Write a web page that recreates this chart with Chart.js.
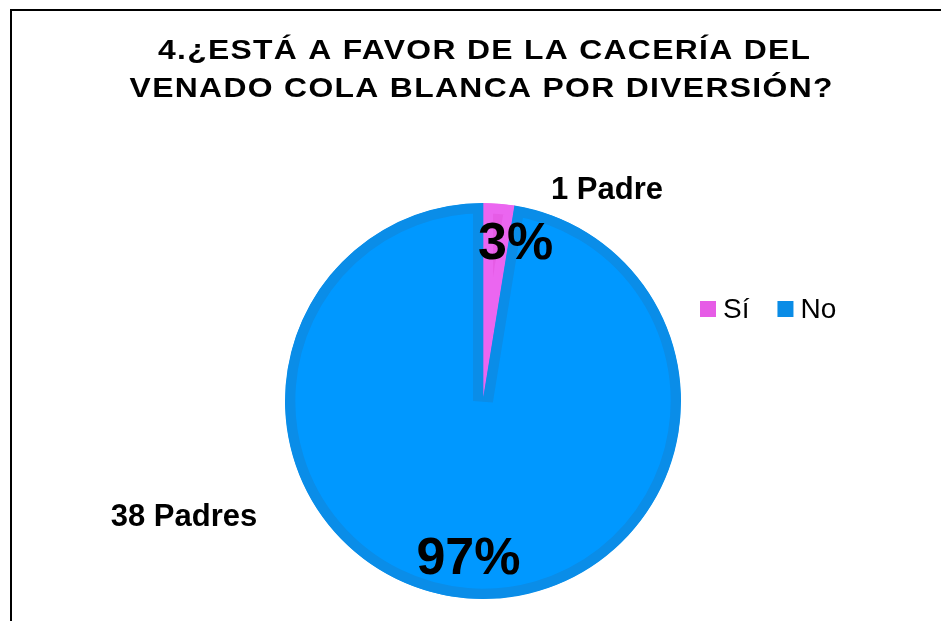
<!DOCTYPE html>
<html>
<head>
<meta charset="utf-8">
<script src="https://cdn.jsdelivr.net/npm/chart.js@4"></script>
<style>
  html, body { margin: 0; padding: 0; background: #fff; }
  #wrap { width: 941px; height: 621px; }
</style>
</head>
<body>
<div id="wrap"><canvas id="pie"></canvas></div>
<script>
// data
const categories = ["Sí", "No"];
const counts = [1, 38];
const countLabels = ["1 Padre", "38 Padres"];
const pctLabels = ["3%", "97%"];
const titleLines = ["4.¿ESTÁ A FAVOR DE LA CACERÍA DEL", "VENADO COLA BLANCA POR DIVERSIÓN?"];

const fills = ["#E65CE6", "#0098FF"];
const borders = ["#EB66F0", "#0A8DE8"];
const legendColors = ["#E65CE6", "#0A8CE6"];

const FONT = "'Liberation Sans', Arial, sans-serif";

// title line: stretched wide type, tracked out to a given width
function drawTitleLine(ctx, text, cx, cy, width) {
  const sx = 1.18;
  ctx.save();
  ctx.font = "bold 27px " + FONT;
  ctx.letterSpacing = "0px";
  const w0 = ctx.measureText(text).width;
  const gap = (width / sx - w0) / (text.length - 1);
  ctx.letterSpacing = gap.toFixed(2) + "px";
  ctx.translate(cx + gap * sx / 2, cy);
  ctx.scale(sx, 1);
  ctx.fillText(text, 0, 0);
  ctx.restore();
}

// draws frame, title, data labels and the inline legend
const decorations = {
  id: "decorations",
  beforeDraw(chart) {
    const ctx = chart.ctx;
    ctx.save();
    ctx.fillStyle = "#fff";
    ctx.fillRect(0, 0, chart.width, chart.height);
    ctx.strokeStyle = "#000";
    ctx.lineWidth = 2;
    ctx.strokeRect(11, 10, 1000, 1000);
    ctx.restore();
  },
  afterDraw(chart) {
    const ctx = chart.ctx;
    ctx.save();
    ctx.fillStyle = "#000";
    ctx.textAlign = "center";
    ctx.textBaseline = "middle";

    drawTitleLine(ctx, titleLines[0], 484, 52, 652);
    drawTitleLine(ctx, titleLines[1], 481, 90, 703);

    const arcs = chart.getDatasetMeta(0).data;
    // percent labels inside slices, count labels outside
    const pctOffset = [[20, 0], [-2, 3]];
    const cntOffset = [[124, -211], [-299, 116]];
    arcs.forEach((arc, i) => {
      const mid = (arc.startAngle + arc.endAngle) / 2;
      const r = arc.outerRadius * 0.79;
      const px = arc.x + Math.cos(mid) * r + pctOffset[i][0];
      const py = arc.y + Math.sin(mid) * r + pctOffset[i][1];
      ctx.font = "bold 52px " + FONT;
      ctx.fillText(pctLabels[i], px, py);

      ctx.font = "bold 31px " + FONT;
      ctx.fillText(countLabels[i], arc.x + cntOffset[i][0], arc.y + cntOffset[i][1]);
    });

    // legend in one row to the right of the pie
    ctx.textAlign = "left";
    ctx.font = "28px " + FONT;
    let x = 700;
    const y = 309;
    categories.forEach((c, i) => {
      ctx.fillStyle = legendColors[i];
      ctx.fillRect(x, y - 8, 16, 16);
      ctx.fillStyle = "#000";
      ctx.fillText(c, x + 23, y + 1);
      x += 23 + ctx.measureText(c).width + 28;
    });
    ctx.restore();
  }
};

new Chart(document.getElementById("pie"), {
  type: "pie",
  data: {
    labels: categories,
    datasets: [{
      data: counts,
      backgroundColor: fills,
      borderColor: borders,
      borderWidth: 10,
      borderAlign: "inner",
      borderJoinStyle: "miter"
    }]
  },
  options: {
    responsive: true,
    maintainAspectRatio: false,
    animation: false,
    layout: { padding: { left: 285, right: 260, top: 203, bottom: 22 } },
    plugins: {
      legend: { display: false },
      tooltip: { enabled: false },
      title: { display: false }
    }
  },
  plugins: [decorations]
});
</script>
</body>
</html>
